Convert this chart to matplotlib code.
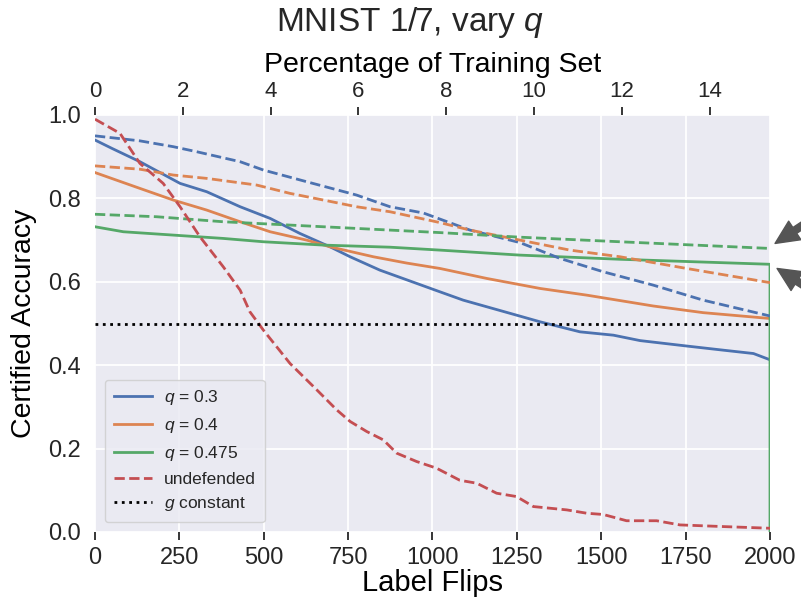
import matplotlib
matplotlib.use('Agg')
import matplotlib.pyplot as plt

# data
train_size = 13007

q03_x = [0, 50, 133, 252, 331, 430, 519, 607, 696, 756, 844, 1022, 1091, 1249, 1319, 1437,
         1536, 1615, 1753, 1862, 1951, 2000]
q03_y = [0.940, 0.920, 0.888, 0.836, 0.816, 0.780, 0.752, 0.716, 0.684, 0.660, 0.628, 0.576,
         0.556, 0.520, 0.504, 0.480, 0.472, 0.459, 0.446, 0.436, 0.428, 0.413]
q03_alt_x = [0, 133, 232, 301, 430, 499, 627, 775, 874, 973, 1111, 1259, 1378, 1506, 1654,
             1802, 2000]
q03_alt_y = [0.950, 0.938, 0.924, 0.912, 0.888, 0.868, 0.840, 0.808, 0.780, 0.765, 0.724,
             0.694, 0.656, 0.624, 0.592, 0.556, 0.518]

q04_x = [0, 133, 232, 331, 430, 519, 627, 696, 825, 923, 1022, 1161, 1319, 1457, 1654, 1802, 2000]
q04_y = [0.862, 0.824, 0.796, 0.772, 0.744, 0.720, 0.700, 0.684, 0.660, 0.645, 0.632, 0.608,
         0.584, 0.568, 0.542, 0.526, 0.512]
q04_alt_x = [0, 133, 232, 331, 479, 578, 677, 775, 874, 1022, 1111, 1259, 1407, 1556, 1753, 2000]
q04_alt_y = [0.878, 0.870, 0.856, 0.848, 0.832, 0.812, 0.796, 0.780, 0.768, 0.742, 0.724,
             0.700, 0.676, 0.660, 0.632, 0.598]

q0475_x = [0, 84, 232, 380, 499, 677, 874, 1022, 1259, 1556, 2000, 2000]
q0475_y = [0.732, 0.720, 0.712, 0.704, 0.696, 0.688, 0.683, 0.676, 0.664, 0.654, 0.642, 0.0]
q0475_alt_x = [0, 183, 380, 578, 775, 1022, 1259, 1556, 2000]
q0475_alt_y = [0.762, 0.756, 0.744, 0.736, 0.728, 0.718, 0.707, 0.696, 0.680]

undef_x = [0, 74, 133, 202, 252, 311, 380, 430, 459, 499, 578, 657, 716, 756, 805, 854, 894,
           953, 1012, 1081, 1131, 1190, 1249, 1299, 1398, 1457, 1506, 1575, 1664, 1733, 1862, 2000]
undef_y = [0.990, 0.956, 0.884, 0.836, 0.780, 0.708, 0.636, 0.580, 0.528, 0.484, 0.404, 0.341,
           0.293, 0.265, 0.241, 0.221, 0.189, 0.169, 0.153, 0.124, 0.117, 0.093, 0.085, 0.061,
           0.053, 0.045, 0.042, 0.027, 0.027, 0.017, 0.013, 0.009]

g_const = 0.5

blue, orange, green, red = '#4C72B0', '#DD8452', '#55A868', '#C44E52'

plt.rcParams['font.family'] = ['Liberation Sans', 'DejaVu Sans']
plt.rcParams['mathtext.fontset'] = 'custom'
plt.rcParams['mathtext.rm'] = 'Liberation Sans'
plt.rcParams['mathtext.it'] = 'Liberation Sans:italic'
plt.rcParams['text.color'] = '#262626'
plt.rcParams['xtick.color'] = '#262626'
plt.rcParams['ytick.color'] = '#262626'

fig = plt.figure(figsize=(8.01, 6.01), dpi=100)
ax = fig.add_axes([95 / 801, 1 - 532 / 601, 675 / 801, 417 / 601])
ax.set_facecolor('#EAEAF2')
for s in ax.spines.values():
    s.set_visible(False)
ax.grid(True, color='white', linewidth=1.3)
ax.set_axisbelow(True)

lw = 2
ax.plot(q03_x, q03_y, color=blue, lw=lw, label='$q$ = 0.3')
ax.plot(q04_x, q04_y, color=orange, lw=lw, label='$q$ = 0.4')
ax.plot(q0475_x, q0475_y, color=green, lw=lw, label='$q$ = 0.475')
ax.plot(q03_alt_x, q03_alt_y, color=blue, lw=lw, ls='--')
ax.plot(q04_alt_x, q04_alt_y, color=orange, lw=lw, ls='--')
ax.plot(q0475_alt_x, q0475_alt_y, color=green, lw=lw, ls='--')
ax.plot(undef_x, undef_y, color=red, lw=lw, ls='--', label='undefended')
ax.axhline(g_const, color='black', lw=lw, ls=':', label='$g$ constant')

ax.set_xlim(0, 2000)
ax.set_ylim(0, 1.0)
ax.set_xticks(range(0, 2001, 250))
ax.set_yticks([0, 0.2, 0.4, 0.6, 0.8, 1.0])
ax.set_yticklabels(['0.0', '0.2', '0.4', '0.6', '0.8', '1.0'])
ax.tick_params(axis='x', length=6, width=1.3, color='#262626', pad=5, labelsize=17)
ax.tick_params(axis='y', length=0, pad=10, labelsize=17)
ax.set_xlabel('Label Flips', fontsize=21, labelpad=0)
ax.set_ylabel('Certified Accuracy', fontsize=20.5, labelpad=8)

top = ax.secondary_xaxis('top', functions=(lambda v: v / train_size * 100,
                                           lambda p: p * train_size / 100))
top.set_xticks(range(0, 15, 2))
for s in top.spines.values():
    s.set_visible(False)
top.tick_params(length=6, width=1.3, color='#262626', pad=3, labelsize=16)
top.set_xlabel('Percentage of Training Set', fontsize=20.5, labelpad=7)
fig.text(410 / 801, 1 - 22 / 601, 'MNIST 1/7, vary $q$', ha='center', va='center', fontsize=24)

leg = ax.legend(loc='lower left', fontsize=12.5, handlelength=2.2, handletextpad=0.7,
                labelspacing=0.5, borderpad=0.5, borderaxespad=0, frameon=True,
                fancybox=True, framealpha=0.8, facecolor='#EAEAF2', edgecolor='#cccccc',
                bbox_to_anchor=(10 / 675, 10 / 417))

arrow = dict(facecolor='#555555', edgecolor='#555555', width=5, headwidth=16, headlength=17)
ax.annotate('', xy=(2015, 0.692), xytext=(2180, 0.78), arrowprops=arrow, annotation_clip=False)
ax.annotate('', xy=(2021, 0.632), xytext=(2180, 0.55), arrowprops=arrow, annotation_clip=False)

fig.savefig('out.png', dpi=100)
